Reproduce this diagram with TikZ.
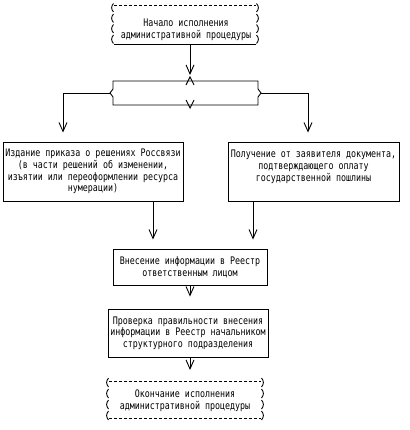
\documentclass[tikz,border=0pt]{standalone}
\usepackage{fontspec}
\setmonofont[FakeStretch=0.8]{DejaVu Sans Mono}
\usetikzlibrary{arrows.meta,calc}

\tikzset{
	txt/.style={font=\ttfamily\fontsize{10.4}{11.6}\selectfont, align=center, inner sep=1pt},
	blok/.style={txt, draw, rectangle},
	strelka/.style={-{Straight Barb[length=9pt,width=8pt]}},
}

\begin{document}
\begin{tikzpicture}[x=1pt,y=-1pt,line width=0.9pt]
	\useasboundingbox (0,0) rectangle (409,430);
	
	% start
	\node[txt] (start) at (186,29.5) {Начало исполнения\\административной процедуры};
	\draw[dash pattern=on 3pt off 2pt] (114,5) -- (256,5);
	\draw (114,44) -- (256,44);
	\foreach \k in {0,...,3} {
		\pgfmathsetmacro\ya{3.5+\k*10.5}
		\draw (113.5,\ya) .. controls (111,\ya+3) and (111,\ya+5.5) .. (113.5,\ya+8.5);
		\draw (256.5,\ya) .. controls (259,\ya+3) and (259,\ya+5.5) .. (256.5,\ya+8.5);
	}
	\coordinate (stem) at (190,44);
	
	% choice
	\coordinate (ul) at (113,81);
	\coordinate (ur) at (258,81);
	\coordinate (lr) at (258,105);
	\coordinate (ll) at (113,105);
	\coordinate (lt) at (110,93);
	\coordinate (rt) at (261,93);
	\coordinate (peak) at (190,77);
	\coordinate (notch) at (190,108);
	\draw (ul) -- (ur) -- ($(ur)+(0,8)$) -- (rt) -- ($(lr)+(0,-8)$) -- (lr) -- (ll) -- ($(ll)+(0,-8)$) -- (lt) -- ($(ul)+(0,8)$) -- cycle;
	\draw ($(peak)+(-4,8)$) -- (peak) -- ($(peak)+(4,8)$);
	\draw ($(notch)+(-4,-8)$) -- (notch) -- ($(notch)+(4,-8)$);
	
	% blocks
	\node[blok, minimum width=180pt, minimum height=59pt] (izd) at (93,171.5) {Издание приказа о решениях Россвязи\\(в части решений об изменении,\\изъятии или переоформлении ресурса\\нумерации)};
	\node[blok, minimum width=171pt, minimum height=59pt] (poluch) at (313.5,171.5) {Получение от заявителя документа,\\подтверждающего оплату\\государственной пошлины\\\mbox{}};
	\node[blok, minimum width=154pt, minimum height=36pt] (vnes) at (190,267) {Внесение информации в Реестр\\ответственным лицом};
	\node[blok, minimum width=160pt, minimum height=48pt] (prov) at (188,333) {Проверка правильности внесения\\информации в Реестр начальником\\структурного подразделения};
	
	% end
	\node[txt] (konec) at (185,400.5) {Окончание исполнения\\административной процедуры};
	\draw[dash pattern=on 3pt off 2pt] (109,381) -- (261,381);
	\draw[dash pattern=on 3pt off 2pt] (109,418) -- (261,418);
	\foreach \k in {0,...,3} {
		\pgfmathsetmacro\ya{378+\k*11}
		\draw (108.5,\ya) .. controls (106,\ya+3) and (106,\ya+6) .. (108.5,\ya+9);
		\draw (261.5,\ya) .. controls (264,\ya+3) and (264,\ya+6) .. (261.5,\ya+9);
	}
	\coordinate (ktop) at (190,381);
	
	% arrows
	\draw[strelka] (stem) -- ($(peak)+(0,-2)$);
	\draw[strelka, shorten >=9pt] (lt) -| ([xshift=-30pt]izd.north);
	\draw[strelka, shorten >=9pt] (rt) -| ([xshift=-5.5pt]poluch.north);
	\draw[strelka, shorten >=9pt] ([xshift=60pt]izd.south) -- ([xshift=60pt]izd.south |- vnes.north);
	\draw[strelka, shorten >=9pt] ([xshift=-60.5pt]poluch.south) -- ([xshift=-60.5pt]poluch.south |- vnes.north);
	\draw[strelka, shorten >=12pt] (vnes.south) -- (vnes.south |- prov.north);
	\draw[strelka, shorten >=11pt] (prov.south -| ktop) -- (ktop);
	
\end{tikzpicture}
\end{document}
